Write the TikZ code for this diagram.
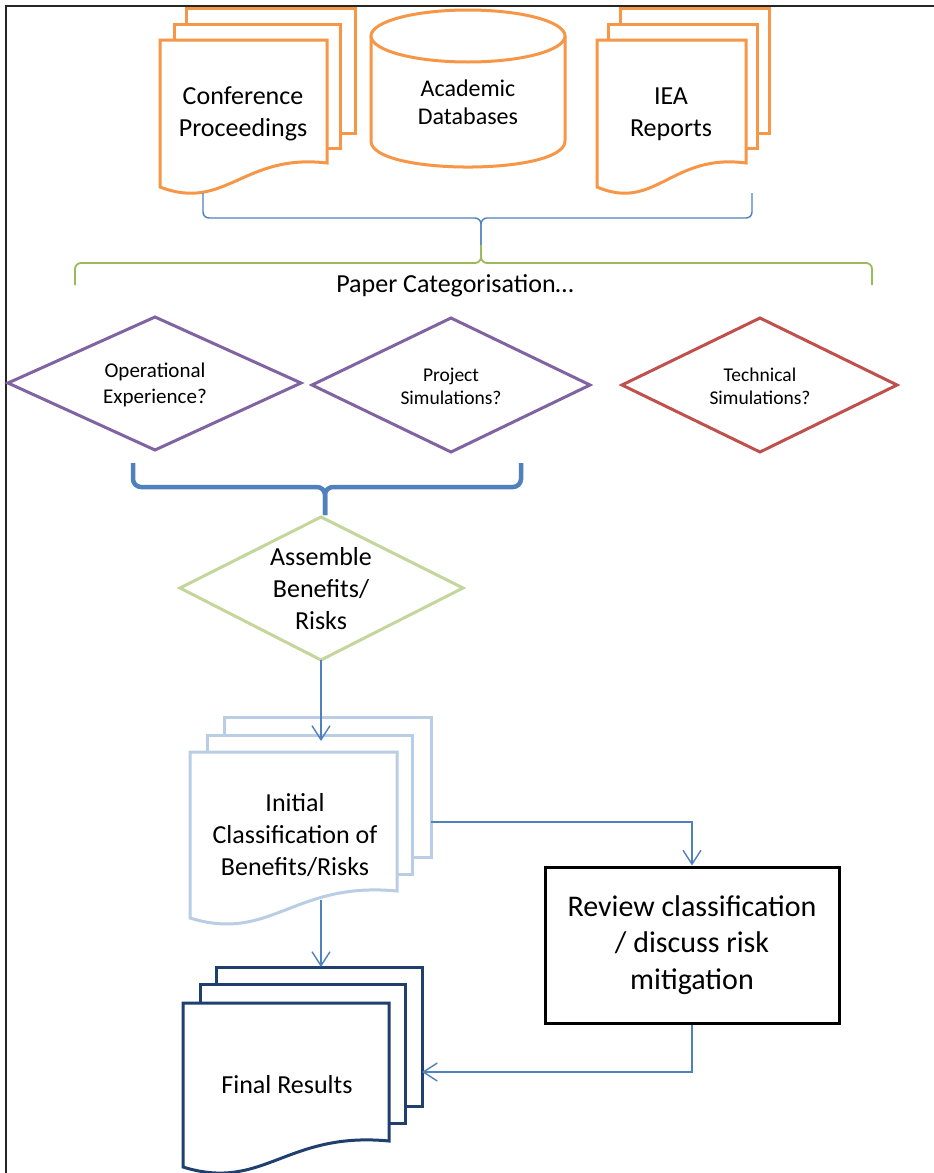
\documentclass[tikz,border=0pt]{standalone}
\usepackage{fontspec}
\setmainfont{Carlito}
\usetikzlibrary{arrows.meta,calc}
\definecolor{orng}{HTML}{F79646}
\definecolor{purp}{HTML}{8064A2}
\definecolor{redd}{HTML}{C0504D}
\definecolor{lgreen}{HTML}{C3D69B}
\definecolor{bgreen}{HTML}{9BBB59}
\definecolor{cblue}{HTML}{4F81BD}
\definecolor{lblue}{HTML}{B9CDE5}
\definecolor{dblue}{HTML}{1F3F6E}
\tikzset{
  pagestyle/.style={fill=white, line width=3pt, line join=miter},
  lbl/.style={align=center, inner sep=0pt, text=black},
  conn/.style={draw=cblue, line width=1.4pt, -{Straight Barb[length=14pt,width=18pt,line width=1.4pt]}},
  bracethin/.style={line width=1.4pt, rounded corners=6pt},
  decision/.style={line width=3pt, fill=white, line join=miter},
  fbig/.style={font=\fontsize{26}{32}\selectfont},
}
\newcommand\mypage[5]{\draw[pagestyle, draw=#1] (#2,#3) rectangle (#4,#5);}
\newcommand\mydocfront[6]{\draw[pagestyle, draw=#1] (#2,#3) -- (#4,#3) -- (#4,#5)
  .. controls ({#2+0.5*(#4-#2)},{#5-10}) and ({#2+0.39*(#4-#2)},{#6+25}) .. (#2,#6) -- cycle;}
\begin{document}
\begin{tikzpicture}[x=1pt,y=-1pt]
\useasboundingbox (0,0) rectangle (934,1173);
\clip (0,0) rectangle (934,1173);
\fill[white] (0,0) rectangle (934,1173);
% frame
\draw[line width=2.2pt, black!85] (6,1180) -- (6,6) -- (940,6);

% Conference Proceedings
\mypage{orng}{186}{8}{355}{133}
\mypage{orng}{174}{24}{340}{148}
\mydocfront{orng}{160}{40}{327}{163}{187}
\node[lbl, fbig] (conf) at (243,114) {Conference\\Proceedings};

% Academic Databases cylinder
\draw[line width=3pt, draw=orng, fill=white] (371,36) -- (371,141)
  .. controls (371,175.7) and (565,175.7) .. (565,141) -- (565,36);
\draw[line width=3pt, draw=orng, fill=white] (468,36) ellipse [x radius=97, y radius=26];
\node[lbl, font=\fontsize{24}{28}\selectfont] (acad) at (468,102) {Academic\\Databases};

% IEA Reports
\mypage{orng}{620}{8}{769}{133}
\mypage{orng}{608}{24}{757}{148}
\mydocfront{orng}{597}{40}{746}{163}{187}
\node[lbl, fbig] (iea) at (671,114) {IEA\\Reports};

% blue thin brace
\coordinate (bl) at (203,193);
\coordinate (br) at (752,193);
\coordinate (btip) at (481,245);
\draw[bracethin, draw=cblue] (bl) -- (203,218) -- (481,218) -- (btip);
\draw[bracethin, draw=cblue] (br) -- (752,218) -- (481,218) -- (btip);

% green brace
\coordinate (gl) at (75,285);
\coordinate (gr) at (872,285);
\draw[bracethin, draw=bgreen, line width=1.8pt] (gl) -- (75,263) -- (481,263) -- (btip);
\draw[bracethin, draw=bgreen, line width=1.8pt] (gr) -- (872,263) -- (481,263) -- (btip);
\node[lbl, fbig] (paper) at (455,286) {Paper Categorisation…};

% diamonds
\draw[decision, draw=purp] (8,383) -- (155,317) -- (301,383) -- (155,450) -- cycle;
\node[lbl, font=\fontsize{21}{26}\selectfont] (oper) at (155,385) {Operational\\Experience?};
\draw[decision, draw=purp] (312,385) -- (451,318) -- (590,385) -- (451,452) -- cycle;
\node[lbl, font=\fontsize{19.5}{23}\selectfont] (proj) at (451,386) {Project\\Simulations?};
\draw[decision, draw=redd] (622,385) -- (760,318) -- (897,385) -- (760,452) -- cycle;
\node[lbl, font=\fontsize{19.5}{23}\selectfont] (tech) at (760,386) {Technical\\Simulations?};

% thick brace
\coordinate (tl) at (133,463);
\coordinate (tr) at (521,463);
\coordinate (ttip) at (325,515);
\draw[draw=cblue, line width=4.5pt, rounded corners=8pt] (tl) -- (133,487) -- (325,487) -- (ttip);
\draw[draw=cblue, line width=4.5pt, rounded corners=8pt] (tr) -- (521,487) -- (325,487) -- (ttip);

% Assemble diamond
\coordinate (asmB) at (321,660);
\draw[decision, draw=lgreen] (180,588) -- (321,517) -- (463,588) -- (asmB) -- cycle;
\node[lbl, fbig] (asm) at (321,589) {Assemble\\Benefits/\\Risks};

% Initial classification
\mypage{lblue}{224}{717}{431}{857}
\mypage{lblue}{207}{735}{412}{874}
\mydocfront{lblue}{190}{752}{397}{891}{918}
\node[lbl, fbig] (init) at (295,835) {Initial\\Classification of\\Benefits/Risks};
\coordinate (initTop) at (321,741);
\coordinate (initBot) at (321,900);
\coordinate (initR) at (431,822);

% Final results
\mypage{dblue}{216}{967}{422}{1106}
\mypage{dblue}{200}{984}{405}{1123}
\mydocfront{dblue}{183}{1003}{389}{1141}{1167}
\node[lbl, fbig] (final) at (287,1085) {Final Results};
\coordinate (finTop) at (321,967);
\coordinate (finR) at (422,1072);

% Review box
\node[draw=black, line width=3pt, fill=white, minimum width=294pt, minimum height=156pt,
      align=center, inner sep=0pt, font=\fontsize{30}{36.5}\selectfont] (review) at (692,945)
      {Review classification\\/ discuss risk\\mitigation};

% connectors
\draw[conn] (asmB) -- (initTop);
\draw[conn] (initBot) -- (finTop);
\draw[conn] (initR) -| (review.north);
\draw[conn] (review.south) |- (finR);
\end{tikzpicture}
\end{document}
